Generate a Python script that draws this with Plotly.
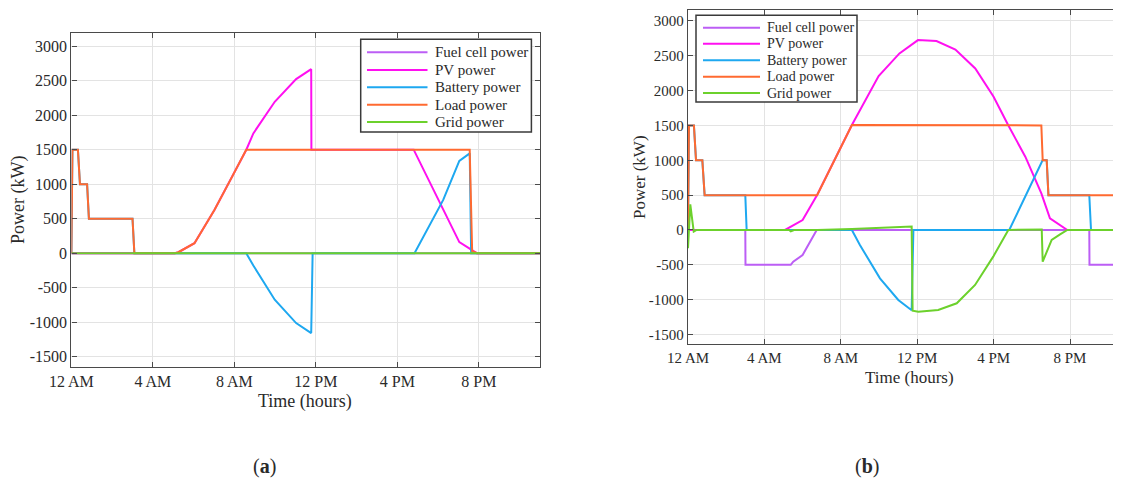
import plotly.graph_objects as go

# ---------------- data: panel (a) ----------------
fc_a_t = [0, 23]
fc_a_v = [0, 0]

pv_a_t = [0, 5.08, 5.25, 6.04, 7.02, 7.89, 8.58, 8.93, 9.98, 11.03, 11.77, 11.78, 16.8, 19.04, 19.74, 19.9, 23]
pv_a_v = [0, 0, 14, 145, 627, 1109, 1495, 1736, 2194, 2522, 2667, 1500, 1500, 160, 24, 0, 0]

bat_a_t = [0, 0.05, 0.32, 0.42, 0.77, 0.86, 3.0, 3.09, 8.58, 8.93, 9.98, 11.03, 11.77, 11.84, 16.84, 17.54, 18.25, 19.04, 19.55, 19.62, 23]
bat_a_v = [0, 1500, 1500, 1000, 1000, 500, 500, 0, 0, -178, -675, -1013, -1158, 0, 0, 386, 772, 1336, 1447, 0, 0]

load_a_t = [0, 0.05, 0.32, 0.42, 0.77, 0.86, 3.0, 3.09, 5.08, 5.25, 6.04, 7.02, 7.89, 8.58, 19.55, 19.67, 19.88, 19.9, 23]
load_a_v = [0, 1500, 1500, 1000, 1000, 500, 500, 0, 0, 14, 145, 627, 1109, 1500, 1500, 30, 5, 0, 0]

grid_a_t = [0, 23]
grid_a_v = [0, 0]

# ---------------- data: panel (b) ----------------
fc_b_t = [0, 3.0, 3.01, 5.38, 5.51, 6.0, 6.74, 21.01, 21.02, 22.67]
fc_b_v = [0, 0, -500, -500, -454, -358, 0, 0, -500, -500]

pv_b_t = [0, 5.08, 6.0, 6.76, 8.58, 9.98, 11.07, 12.04, 13.01, 14.0, 15.04, 16.0, 16.76, 17.66, 18.5, 18.95, 19.86, 22.67]
pv_b_v = [0, 0, 143, 502, 1505, 2207, 2532, 2723, 2709, 2589, 2317, 1911, 1505, 1051, 525, 167, 0, 0]

bat_b_t = [0, 0.05, 0.31, 0.42, 0.75, 0.87, 3.0, 3.07, 8.58, 9.0, 10.05, 11.01, 11.71, 11.8, 16.82, 18.57, 18.78, 18.87, 21.01, 21.1, 22.67]
bat_b_v = [0, 1500, 1500, 1000, 1000, 500, 500, 0, 0, -215, -693, -1003, -1150, 0, 0, 1003, 1000, 500, 500, 0, 0]

load_b_t = [0, 0.05, 0.31, 0.42, 0.75, 0.87, 6.76, 8.58, 18.5, 18.57, 18.78, 18.87, 22.67]
load_b_v = [0, 1500, 1500, 1000, 1000, 500, 500, 1505, 1500, 1000, 1000, 500, 500]

grid_b_t = [0, 0.12, 0.3, 0.45, 5.3, 5.38, 5.55, 6.76, 8.58, 11.71, 11.76, 12.06, 13.1, 14.07, 15.03, 15.98, 16.77, 18.52, 18.57, 19.04, 19.48, 19.86, 22.67]
grid_b_v = [-262, 368, -24, 0, 0, -20, 0, 0, 15, 50, -1157, -1171, -1147, -1051, -788, -382, 0, 8, -454, -143, -62, 0, 0]

x_tickvals = [0, 4, 8, 12, 16, 20]
x_ticktext = ["12 AM", "4 AM", "8 AM", "12 PM", "4 PM", "8 PM"]
y_tickvals = [-1500, -1000, -500, 0, 500, 1000, 1500, 2000, 2500, 3000]
y_ticktext = ["-1500", "-1000", "-500", "0", "500", "1000", "1500", "2000", "2500", "3000"]

names = ["Fuel cell power", "PV power", "Battery power", "Load power", "Grid power"]
colors = ["#BC5EF5", "#FF10F0", "#1EA8F0", "#FF6A30", "#6CD12C"]

FONT = "Liberation Serif, Times New Roman, serif"
TXT = "#2A2A2A"
OFF = 8  # page body margin
W, H = 1121 - OFF, 481 - OFF


def px_x(p):
    return (p - OFF) / W


def px_y(p):
    return 1 - (p - OFF) / H


fig = go.Figure()

series_a = [(fc_a_t, fc_a_v), (pv_a_t, pv_a_v), (bat_a_t, bat_a_v), (load_a_t, load_a_v), (grid_a_t, grid_a_v)]
series_b = [(fc_b_t, fc_b_v), (pv_b_t, pv_b_v), (bat_b_t, bat_b_v), (load_b_t, load_b_v), (grid_b_t, grid_b_v)]

for (t, v), n, c in zip(series_a, names, colors):
    fig.add_trace(go.Scatter(x=t, y=v, mode="lines", name=n, line=dict(color=c, width=2),
                             xaxis="x", yaxis="y", showlegend=False))
for (t, v), n, c in zip(series_b, names, colors):
    fig.add_trace(go.Scatter(x=t, y=v, mode="lines", name=n, line=dict(color=c, width=2),
                             xaxis="x2", yaxis="y2", showlegend=False))

axis_common = dict(
    showgrid=True, gridcolor="#E3E3E3", gridwidth=1,
    showline=True, linecolor="#4A4A4A", linewidth=1.3,
    ticks="inside", ticklen=5, tickcolor="#4A4A4A", tickwidth=1,
    zeroline=False, automargin=False,
)

fig.update_layout(
    template="none",
    width=W, height=H, autosize=False,
    margin=dict(l=0, r=0, t=0, b=0, pad=0, autoexpand=False),
    paper_bgcolor="white", plot_bgcolor="white",
    font=dict(family=FONT, color=TXT),
    showlegend=False,
    xaxis=dict(domain=[px_x(71.4), px_x(540)], range=[0, 23], anchor="y",
               tickvals=x_tickvals, ticktext=x_ticktext, mirror="ticks",
               tickfont=dict(family=FONT, size=16, color=TXT), **axis_common),
    yaxis=dict(domain=[px_y(366.7), px_y(32.7)], range=[-1645, 3195], anchor="x",
               tickvals=y_tickvals, ticktext=y_ticktext, mirror="ticks",
               tickfont=dict(family=FONT, size=16, color=TXT), **axis_common),
    xaxis2=dict(domain=[px_x(688), 1.0], range=[0, 22.67], anchor="y2",
                tickvals=x_tickvals, ticktext=x_ticktext, mirror="ticks",
                tickfont=dict(family=FONT, size=15, color=TXT), **axis_common),
    yaxis2=dict(domain=[px_y(344), px_y(10)], range=[-1635, 3155], anchor="x2",
                tickvals=y_tickvals, ticktext=y_ticktext, mirror=False,
                tickfont=dict(family=FONT, size=15, color=TXT), **axis_common),
)

annotations = [
    dict(text="Time (hours)", x=px_x(305), y=px_y(401), size=18),
    dict(text="Power (kW)", x=px_x(19), y=px_y(200), size=18, textangle=-90),
    dict(text="Time (hours)", x=px_x(909), y=px_y(377), size=17),
    dict(text="Power (kW)", x=px_x(639), y=px_y(177), size=17, textangle=-90),
    dict(text="(<b>a</b>)", x=px_x(264), y=px_y(466), size=20),
    dict(text="(<b>b</b>)", x=px_x(867), y=px_y(466), size=20),
]
ann_list = []
for a in annotations:
    ann_list.append(dict(text=a["text"], x=a["x"], y=a["y"], xref="paper", yref="paper",
                         xanchor="center", yanchor="middle", showarrow=False,
                         textangle=a.get("textangle", 0),
                         font=dict(family=FONT, size=a["size"], color=TXT)))

shapes = []

# legend boxes drawn with the figure's own shapes/annotations
legend_specs = [
    dict(box=(360.7, 531.4, 39.3, 132.0), rows=[52.3, 70.0, 87.3, 104.7, 122.0],
         line=(367, 427.5), text_x=433, size=15),
    dict(box=(696, 857, 15.3, 102.0), rows=[27.7, 43.7, 60.3, 76.7, 93.0],
         line=(703, 760), text_x=765, size=14),
]
for spec in legend_specs:
    x0, x1, y0, y1 = spec["box"]
    shapes.append(dict(type="rect", xref="paper", yref="paper",
                       x0=px_x(x0), x1=px_x(x1), y0=px_y(y1), y1=px_y(y0),
                       line=dict(color="#3A3A3A", width=1.5), fillcolor="white", layer="above"))
    for row, n, c in zip(spec["rows"], names, colors):
        shapes.append(dict(type="line", xref="paper", yref="paper",
                           x0=px_x(spec["line"][0]), x1=px_x(spec["line"][1]),
                           y0=px_y(row), y1=px_y(row),
                           line=dict(color=c, width=2), layer="above"))
        ann_list.append(dict(text=n, x=px_x(spec["text_x"]), y=px_y(row), xref="paper", yref="paper",
                             xanchor="left", yanchor="middle", showarrow=False,
                             font=dict(family=FONT, size=spec["size"], color=TXT)))

fig.update_layout(annotations=ann_list, shapes=shapes)

fig.write_html("out.html")
